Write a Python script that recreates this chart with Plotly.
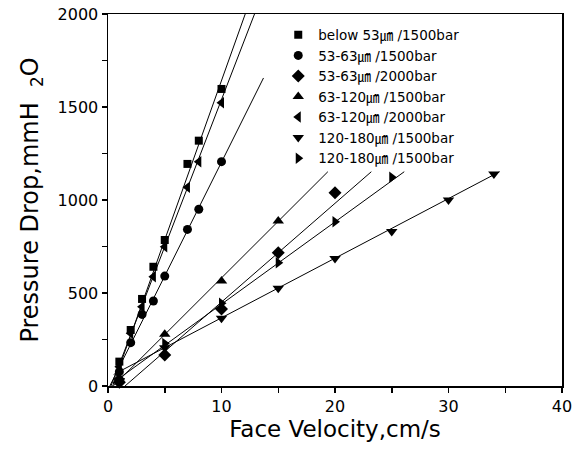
import plotly.graph_objects as go

# ---- data ----
vel_a = [1, 2, 3, 4, 5, 7, 8, 10]
below53_1500 = [131, 301, 468, 641, 785, 1194, 1319, 1597]
r53_63_1500 = [77, 233, 385, 457, 591, 842, 950, 1206]
r63_120_2000 = [104, 283, 426, 588, 749, 1068, 1206, 1523]

vel_up = [1, 5, 10, 15]
r63_120_1500 = [45, 278, 565, 887]
vel_dia = [1, 5, 10, 15, 20]
r53_63_2000 = [20, 167, 414, 717, 1039]
vel_rt = [1, 5, 10, 15, 20, 25]
r120_180_1500b = [40, 229, 445, 663, 883, 1122]
vel_dn = [1, 5, 10, 15, 20, 25, 30, 34]
r120_180_1500a = [30, 205, 364, 525, 686, 830, 1000, 1140]

# fitted straight lines (end points)
fit_sq_x, fit_sq_y = [0.41, 12.09], [0, 2000]
fit_ci_x, fit_ci_y = [0.16, 13.7], [0, 1656]
fit_lt_x, fit_lt_y = [0.26, 12.91], [0, 2000]
fit_ut_x, fit_ut_y = [0.46, 19.37], [0, 1152]
fit_di_x, fit_di_y = [1.5, 23.2], [0, 1152]
fit_rt_x, fit_rt_y = [0.5, 26.1], [20, 1152]
fit_dt_x, fit_dt_y = [0.5, 34.5], [62, 1152]

labels = ["below 53㎛ /1500bar", "53-63㎛ /1500bar", "53-63㎛ /2000bar",
          "63-120㎛ /1500bar", "63-120㎛ /2000bar", "120-180㎛ /1500bar",
          "120-180㎛ /1500bar"]

FONT = "DejaVu Sans, Noto Sans CJK KR, sans-serif"

fig = go.Figure()

fits = [(fit_sq_x, fit_sq_y), (fit_ci_x, fit_ci_y), (fit_lt_x, fit_lt_y),
        (fit_ut_x, fit_ut_y), (fit_di_x, fit_di_y), (fit_rt_x, fit_rt_y),
        (fit_dt_x, fit_dt_y)]
for fx, fy in fits:
    fig.add_trace(go.Scatter(x=fx, y=fy, mode="lines", showlegend=False,
                             line=dict(color="black", width=1), cliponaxis=True))

series = [
    (vel_a, below53_1500, "square", 8),
    (vel_a, r53_63_1500, "circle", 9),
    (vel_dia, r53_63_2000, "diamond", 10),
    (vel_up, r63_120_1500, "triangle-up", 10),
    (vel_a, r63_120_2000, "triangle-left", 10),
    (vel_dn, r120_180_1500a, "triangle-down", 10),
    (vel_rt, r120_180_1500b, "triangle-right", 10),
]
for (xs, ys, sym, sz), lab in zip(series, labels):
    fig.add_trace(go.Scatter(x=xs, y=ys, mode="markers", name=lab,
                             marker=dict(symbol=sym, size=sz, color="black",
                                         line=dict(width=0)),
                             cliponaxis=False))

fig.update_layout(
    width=582, height=457,
    margin=dict(l=108, r=20, t=14, b=71),
    paper_bgcolor="white", plot_bgcolor="white",
    font=dict(family=FONT, color="black", size=15),
    showlegend=True,
    legend=dict(x=0.375, y=0.985, xanchor="left", yanchor="top",
                bgcolor="rgba(0,0,0,0)", font=dict(size=13.5, family=FONT),
                itemwidth=30, tracegroupgap=0),
)
fig.update_xaxes(range=[0, 40], tickvals=[0, 10, 20, 30, 40], automargin=False,
                 ticks="outside", ticklen=5, tickwidth=1.5, tickcolor="black",
                 minor=dict(dtick=5, ticks="outside", ticklen=5, tickcolor="black"),
                 showline=True, linecolor="black", linewidth=1.5, mirror=True,
                 showgrid=False, zeroline=False, ticklabeloverflow="allow",
                 tickfont=dict(size=16, family=FONT),
                 title=dict(text="Face Velocity,cm/s", font=dict(size=23, family=FONT),
                            standoff=6))
fig.update_yaxes(range=[0, 2000], tickvals=[0, 500, 1000, 1500, 2000], automargin=False,
                 ticks="outside", ticklen=5, tickwidth=1.5, tickcolor="black",
                 minor=dict(dtick=250, ticks="outside", ticklen=5, tickcolor="black"),
                 showline=True, linecolor="black", linewidth=1.5, mirror=True,
                 showgrid=False, zeroline=False, ticklabeloverflow="allow",
                 tickfont=dict(size=16, family=FONT),
                 title=dict(text="Pressure Drop,mmH  <sub>2</sub>O",
                            font=dict(size=24, family=FONT), standoff=12))

fig.write_html("out.html",
               config={"displayModeBar": False, "staticPlot": True},
               post_script="document.body.style.margin='0';"
                           "document.body.style.padding='0';")
